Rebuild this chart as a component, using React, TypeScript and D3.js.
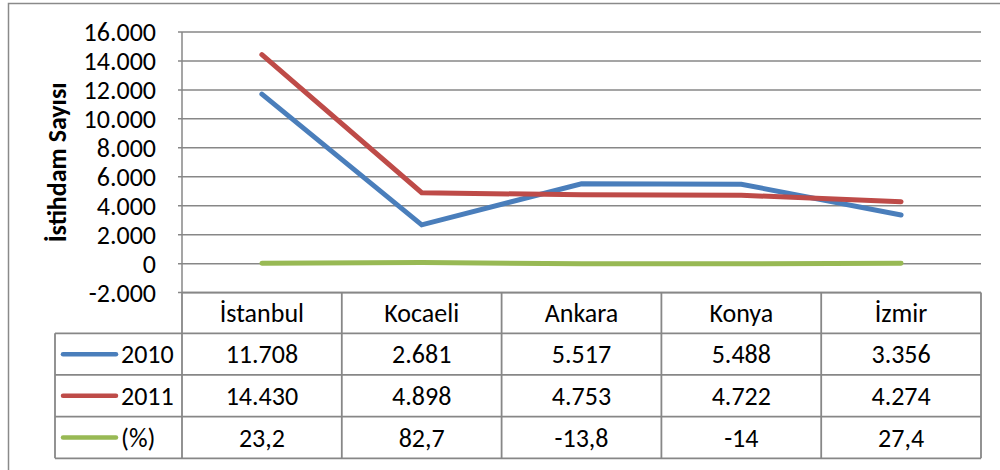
import React, { useEffect, useRef } from 'react';
import * as d3 from 'd3';

const CITIES = ['İstanbul', 'Kocaeli', 'Ankara', 'Konya', 'İzmir'];
const SERIES_NAMES = ['2010', '2011', '(%)'];
const VALUES_2010 = [11708, 2681, 5517, 5488, 3356];
const VALUES_2011 = [14430, 4898, 4753, 4722, 4274];
const VALUES_PCT = [23.2, 82.7, -13.8, -14, 27.4];
const LABELS_2010 = ['11.708', '2.681', '5.517', '5.488', '3.356'];
const LABELS_2011 = ['14.430', '4.898', '4.753', '4.722', '4.274'];
const LABELS_PCT = ['23,2', '82,7', '-13,8', '-14', '27,4'];
const Y_TICKS = [-2000, 0, 2000, 4000, 6000, 8000, 10000, 12000, 14000, 16000];
const Y_TITLE = 'İstihdam Sayısı';

const COLORS = ['#4a7ebb', '#be4b48', '#98b954'];
const FONT = "Carlito, Calibri, 'Open Sans', sans-serif";
const GRID = '#878787';
const FS = 26;

export default function App() {
  const ref = useRef<SVGSVGElement>(null);

  useEffect(() => {
    const svgEl = ref.current;
    if (!svgEl) return;
    const svg = d3.select(svgEl);
    svg.selectAll('*').remove();

    const plot = { left: 182, right: 981, top: 32, bottom: 292.6 };
    const table = { left: 55, headerTop: 292.6, headerBottom: 333.3, bottom: 458.3 };

    const x = d3.scaleBand<string>().domain(CITIES).range([plot.left, plot.right]);
    const y = d3.scaleLinear().domain([-2000, 16000]).range([plot.bottom, plot.top]);
    const row = d3
      .scaleBand<string>()
      .domain(SERIES_NAMES)
      .range([table.headerBottom, table.bottom]);

    // outer chart border
    svg
      .append('rect')
      .attr('x', 8.5)
      .attr('y', 3.5)
      .attr('width', 1100)
      .attr('height', 600)
      .attr('fill', 'none')
      .attr('stroke', '#8a8a8a')
      .attr('stroke-width', 1.5);

    // gridlines
    svg
      .append('g')
      .selectAll('line')
      .data(Y_TICKS)
      .join('line')
      .attr('x1', plot.left - 4)
      .attr('x2', plot.right)
      .attr('y1', (d) => y(d))
      .attr('y2', (d) => y(d))
      .attr('stroke', GRID)
      .attr('stroke-width', 1.5);

    svg
      .append('line')
      .attr('x1', plot.left)
      .attr('x2', plot.left)
      .attr('y1', plot.top)
      .attr('y2', plot.bottom)
      .attr('stroke', GRID)
      .attr('stroke-width', 1.5);

    // y tick labels
    const fmt = (d: number) => (d === 0 ? '0' : d3.format(',')(d).replace(/,/g, '.').replace('−', '-'));
    svg
      .append('g')
      .selectAll('text')
      .data(Y_TICKS)
      .join('text')
      .attr('x', 156)
      .attr('y', (d) => y(d))
      .attr('dy', '0.35em')
      .attr('text-anchor', 'end')
      .attr('font-family', FONT)
      .attr('font-size', FS)
      .attr('fill', '#000')
      .text(fmt);

    svg
      .append('text')
      .attr('transform', `translate(57,${(plot.top + plot.bottom) / 2}) rotate(-90)`)
      .attr('dy', '0.35em')
      .attr('text-anchor', 'middle')
      .attr('font-family', FONT)
      .attr('font-size', FS)
      .attr('font-weight', 700)
      .attr('fill', '#000')
      .text(Y_TITLE);

    // series lines
    const allSeries = [VALUES_2010, VALUES_2011, VALUES_PCT];
    const line = d3
      .line<number>()
      .x((_, i) => (x(CITIES[i]) ?? 0) + x.bandwidth() / 2)
      .y((d) => y(d));

    svg
      .append('g')
      .selectAll('path')
      .data([VALUES_PCT, VALUES_2010, VALUES_2011])
      .join('path')
      .attr('d', (d) => line(d))
      .attr('fill', 'none')
      .attr('stroke', (d) => COLORS[allSeries.indexOf(d)])
      .attr('stroke-width', 5)
      .attr('stroke-linecap', 'round')
      .attr('stroke-linejoin', 'miter');

    // data table grid
    const tg = svg.append('g').attr('stroke', GRID).attr('stroke-width', 1.8);
    tg.append('line')
      .attr('x1', plot.left)
      .attr('x2', plot.right)
      .attr('y1', table.headerTop)
      .attr('y2', table.headerTop);
    const rowEdges = [...SERIES_NAMES.map((s) => row(s) ?? 0), table.bottom];
    tg.selectAll('line.h')
      .data(rowEdges)
      .join('line')
      .attr('class', 'h')
      .attr('x1', table.left)
      .attr('x2', plot.right)
      .attr('y1', (d) => d)
      .attr('y2', (d) => d);
    const colEdges = [...CITIES.map((c) => x(c) ?? 0), plot.right];
    tg.selectAll('line.v')
      .data(colEdges)
      .join('line')
      .attr('class', 'v')
      .attr('x1', (d) => d)
      .attr('x2', (d) => d)
      .attr('y1', table.headerTop)
      .attr('y2', table.bottom);
    tg.append('line')
      .attr('x1', table.left)
      .attr('x2', table.left)
      .attr('y1', table.headerBottom)
      .attr('y2', table.bottom);

    // header labels
    svg
      .append('g')
      .selectAll('text')
      .data(CITIES)
      .join('text')
      .attr('x', (d) => (x(d) ?? 0) + x.bandwidth() / 2)
      .attr('y', (table.headerTop + table.headerBottom) / 2)
      .attr('dy', '0.35em')
      .attr('text-anchor', 'middle')
      .attr('font-family', FONT)
      .attr('font-size', FS)
      .attr('fill', '#000')
      .text((d) => d);

    // value cells
    const allLabels = [LABELS_2010, LABELS_2011, LABELS_PCT];
    SERIES_NAMES.forEach((name, si) => {
      const cy = (row(name) ?? 0) + row.bandwidth() / 2;
      svg
        .append('g')
        .selectAll('text')
        .data(allLabels[si])
        .join('text')
        .attr('x', (_, i) => (x(CITIES[i]) ?? 0) + x.bandwidth() / 2)
        .attr('y', cy)
        .attr('dy', '0.35em')
        .attr('text-anchor', 'middle')
        .attr('font-family', FONT)
        .attr('font-size', FS)
        .attr('fill', '#000')
        .text((d) => d);

      svg
        .append('line')
        .attr('x1', 63)
        .attr('x2', 116)
        .attr('y1', cy)
        .attr('y2', cy)
        .attr('stroke', COLORS[si])
        .attr('stroke-width', 4.5)
        .attr('stroke-linecap', 'round');

      svg
        .append('text')
        .attr('x', 121)
        .attr('y', cy)
        .attr('dy', '0.35em')
        .attr('font-family', FONT)
        .attr('font-size', FS)
        .attr('fill', '#000')
        .text(name);
    });
  }, []);

  return (
    <svg
      ref={ref}
      width={1000}
      height={470}
      style={{ position: 'absolute', left: 0, top: 0, background: '#fff' }}
    />
  );
}
